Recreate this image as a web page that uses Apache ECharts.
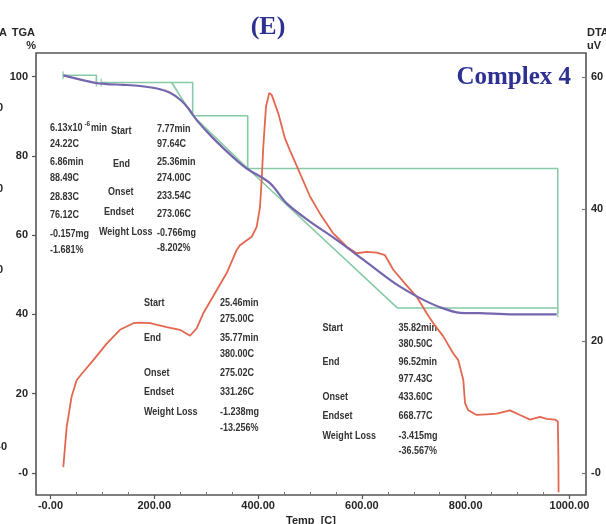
<!DOCTYPE html>
<html>
<head>
<meta charset="utf-8">
<script src="https://cdn.jsdelivr.net/npm/echarts@6/dist/echarts.min.js"></script>
<style>
  html, body { margin: 0; padding: 0; background: #fff; }
  #chart { width: 606px; height: 524px; }
</style>
</head>
<body>
<div id="chart"></div>
<script>
// ---- axis ticks ----
const tempTicks = [0, 200, 400, 600, 800, 1000];
const tempMinorTicks = [50, 100, 150, 250, 300, 350, 450, 500, 550, 650, 700, 750, 850, 900, 950];
const tgaTicks = [0, 20, 40, 60, 80, 100];
const dtaTicks = [0, 20, 40, 60];

// ---- TGA curve: temperature (C) / weight (%) ----
const tgaTemp = [24.7, 85.7, 108.3, 140.0, 172.4, 211.0, 230.3, 249.5, 265.5, 281.7, 313.7, 352.2,
  378.0, 422.9, 455.1, 500.0, 551.4, 602.7, 654.2, 673.5, 712.0, 750.5, 789.1, 827.6, 891.7, 975.3];
const tgaWeight = [100.3, 98.4, 98.1, 97.9, 97.6, 96.8, 95.9, 94.2, 92.0, 89.0, 84.4, 79.6,
  76.8, 73.1, 68.0, 63.4, 58.8, 53.8, 48.7, 47.0, 44.1, 41.8, 40.4, 40.3, 40.0, 40.0];

// ---- DTA curve: temperature (C) / signal (uV) ----
const dtaTemp = [24.7, 31.2, 40.8, 50.5, 63.2, 82.5, 108.3, 133.9, 159.5, 172.4, 191.7, 223.9, 249.5,
  268.8, 281.7, 294.4, 320.2, 339.5, 358.8, 365.0, 387.7, 397.3, 403.7, 406.9, 410.0, 415.2, 421.6,
  426.2, 438.9, 451.8, 461.4, 480.7, 500.0, 519.3, 544.9, 570.7, 590.0, 609.2, 628.5, 644.5, 660.5,
  679.8, 705.6, 724.9, 737.6, 756.8, 776.1, 785.7, 795.4, 798.7, 805.0, 821.2, 840.5, 859.7, 885.4,
  904.6, 923.9, 943.2, 956.0, 972.0, 977.5, 978.5, 979.0];
const dtaSignal = [0.9, 7.0, 11.6, 14.1, 15.3, 17.1, 19.6, 21.7, 22.7, 22.8, 22.7, 22.1, 21.7,
  20.8, 21.9, 24.2, 27.7, 30.3, 33.8, 34.5, 35.8, 37.3, 40.3, 44.4, 49.4, 55.5, 57.6,
  57.3, 54.5, 50.7, 48.9, 45.4, 41.9, 39.3, 36.3, 34.3, 33.3, 33.5, 33.4, 33.0, 30.8,
  29.0, 26.7, 24.2, 22.7, 20.7, 18.1, 17.1, 14.1, 10.6, 9.5, 8.8, 8.9, 9.0, 9.5,
  8.8, 8.1, 8.5, 8.2, 8.1, 7.8, 3.0, -2.9];

// ---- mass-loss steps ----
const stepStartMin = [6.13e-6, 7.77, 25.46, 35.82];
const stepStart = [24.22, 97.64, 275.00, 380.50];
const stepEndMin = [6.86, 25.36, 35.77, 96.52];
const stepEnd = [88.49, 274.00, 380.00, 977.43];
const stepOnset = [28.83, 233.54, 275.02, 433.60];
const stepEndset = [76.12, 273.06, 331.26, 668.77];
const stepLossMg = [0.157, 0.766, 1.238, 3.415];
const stepLossPct = [1.681, 8.202, 13.256, 36.567];
const stepLevel = [100.3, 98.5, 90.1, 76.8];
const tangentWeight = [98.5, 90.3, 76.8, 41.6, 41.6];

const GREEN = '#86cba6';
const PURPLE = '#7566ad';
const RED = '#e4674f';
const TXT = '#333333';
const AX = '#262626';
const SANS = '"Liberation Sans", Arial, sans-serif';
const SERIF = '"Liberation Serif", "Times New Roman", serif';
const NOTE_FONT = 'bold 11px ' + SANS;
const NOTE_SCALE = 0.82;

const zip = (a, b) => a.map((v, i) => [v, b[i]]);

const series = [];
// step boxes
stepStart.forEach((s, i) => {
  const lv = stepLevel[i];
  series.push({
    type: 'line', xAxisIndex: 0, yAxisIndex: 0, symbol: 'none', silent: true,
    lineStyle: { color: GREEN, width: 1.6 },
    data: [[s, lv], [stepEnd[i], lv], [stepEnd[i], lv - stepLossPct[i]]]
  });
});
// onset / endset construction line
const tangentTemp = [stepOnset[1], stepEndset[1], stepEnd[2], stepEndset[3], stepEnd[3]];
series.push({
  type: 'line', xAxisIndex: 0, yAxisIndex: 0, symbol: 'none', silent: true,
  lineStyle: { color: GREEN, width: 1.6 },
  data: zip(tangentTemp, tangentWeight)
});
// DTA
series.push({
  type: 'line', xAxisIndex: 0, yAxisIndex: 1, symbol: 'none', silent: true,
  lineStyle: { color: RED, width: 1.8 },
  data: zip(dtaTemp, dtaSignal)
});
// TGA
series.push({
  type: 'line', xAxisIndex: 0, yAxisIndex: 0, symbol: 'none', silent: true, smooth: 0.3,
  lineStyle: { color: PURPLE, width: 2.2 },
  data: zip(tgaTemp, tgaWeight)
});
// step boundary marks
series.push({
  type: 'scatter', xAxisIndex: 0, yAxisIndex: 0, silent: true,
  symbol: 'rect', symbolSize: [1.4, 8],
  itemStyle: { color: GREEN },
  data: [[stepStart[0], stepLevel[0]], [stepEnd[0], stepLevel[1]], [stepStart[1], stepLevel[1]],
         [stepEnd[3], stepLevel[3] - stepLossPct[3]]]
});

// ---- text annotations ----
const fC = v => v.toFixed(2) + 'C';
const fMin = v => v.toFixed(2) + 'min';
const fMg = v => '-' + v.toFixed(3) + 'mg';
const fPct = v => '-' + v.toFixed(3) + '%';

function txt(text, x, y) {
  return {
    type: 'text', x: x, y: y, scaleX: NOTE_SCALE, silent: true,
    style: { text: text, fill: TXT, font: NOTE_FONT, align: 'left', verticalAlign: 'middle' }
  };
}
function valueColumn(i, x, ys, startMinText) {
  const out = [];
  if (startMinText) out.push(startMinText);
  else out.push(txt(fMin(stepStartMin[i]), x, ys[0]));
  out.push(txt(fC(stepStart[i]), x, ys[1]));
  out.push(txt(fMin(stepEndMin[i]), x, ys[2]));
  out.push(txt(fC(stepEnd[i]), x, ys[3]));
  out.push(txt(fC(stepOnset[i]), x, ys[4]));
  out.push(txt(fC(stepEndset[i]), x, ys[5]));
  out.push(txt(fMg(stepLossMg[i]), x, ys[6]));
  out.push(txt(fPct(stepLossPct[i]), x, ys[7]));
  return out;
}
function labelColumn(pos) {
  const names = ['Start', 'End', 'Onset', 'Endset', 'Weight Loss'];
  return names.map((n, k) => txt(n, pos[k][0], pos[k][1]));
}

// first start time written with a raised exponent
const exp = stepStartMin[0].toExponential(2).split('e');
const firstStart = {
  type: 'group', x: 50, y: 128, scaleX: NOTE_SCALE, silent: true,
  children: [
    { type: 'text', x: 0, y: 0, style: { text: exp[0] + 'x10', fill: TXT, font: NOTE_FONT, verticalAlign: 'middle' } },
    { type: 'text', x: 42, y: -4, style: { text: exp[1], fill: TXT, font: 'bold 8px ' + SANS, verticalAlign: 'middle' } },
    { type: 'text', x: 50, y: 0, style: { text: 'min', fill: TXT, font: NOTE_FONT, verticalAlign: 'middle' } }
  ]
};

const graphics = [].concat(
  valueColumn(0, 50, [128, 144, 162, 178, 196.5, 215, 234, 249.5], firstStart),
  labelColumn([[111, 131], [113, 163.5], [108, 192], [104, 212], [99, 232]]),
  valueColumn(1, 157, [129, 144, 162, 177.5, 195.5, 214, 232.5, 247.5]),
  labelColumn([[144, 302.5], [144, 338], [144, 373], [144, 392], [144, 411.5]]),
  valueColumn(2, 220, [302.5, 319, 338, 354, 373, 392, 411.5, 427.5]),
  labelColumn([[322.5, 327.5], [322.5, 362], [322.5, 396.5], [322.5, 415.5], [322.5, 435.5]]),
  valueColumn(3, 398.5, [327.5, 344, 362, 378.5, 396.5, 415.5, 435.5, 451]),
  [
    // titles
    { type: 'text', x: 268, y: 27, silent: true,
      style: { text: '(E)', fill: '#2e3192', font: 'bold 26px ' + SERIF, align: 'center', verticalAlign: 'middle' } },
    { type: 'text', x: 571, y: 78, silent: true,
      style: { text: 'Complex 4', fill: '#2e3192', font: 'bold 25px ' + SERIF, align: 'right', verticalAlign: 'middle' } },
    // axis captions
    { type: 'text', x: 35, y: 33, silent: true,
      style: { text: 'TGA', fill: AX, font: 'bold 11px ' + SANS, align: 'right', verticalAlign: 'middle' } },
    { type: 'text', x: 36, y: 46, silent: true,
      style: { text: '%', fill: AX, font: 'bold 11px ' + SANS, align: 'right', verticalAlign: 'middle' } },
    { type: 'text', x: 587, y: 33, silent: true,
      style: { text: 'DTA', fill: AX, font: 'bold 11px ' + SANS, align: 'left', verticalAlign: 'middle' } },
    { type: 'text', x: 587, y: 46, silent: true,
      style: { text: 'uV', fill: AX, font: 'bold 11px ' + SANS, align: 'left', verticalAlign: 'middle' } },
    // edge of the neighbouring DTA scale
    { type: 'text', x: 7, y: 33, silent: true,
      style: { text: 'DTA', fill: AX, font: 'bold 11px ' + SANS, align: 'right', verticalAlign: 'middle' } },
    { type: 'text', x: 3, y: 108, silent: true,
      style: { text: '60', fill: AX, font: 'bold 11px ' + SANS, align: 'right', verticalAlign: 'middle' } },
    { type: 'text', x: 3, y: 189, silent: true,
      style: { text: '40', fill: AX, font: 'bold 11px ' + SANS, align: 'right', verticalAlign: 'middle' } },
    { type: 'text', x: 3, y: 270, silent: true,
      style: { text: '20', fill: AX, font: 'bold 11px ' + SANS, align: 'right', verticalAlign: 'middle' } },
    { type: 'text', x: 7, y: 447, silent: true,
      style: { text: '-0', fill: AX, font: 'bold 11px ' + SANS, align: 'right', verticalAlign: 'middle' } }
  ]
);

const labelStyle = { fontFamily: SANS, fontWeight: 'bold', fontSize: 11, color: AX };

const option = {
  animation: false,
  backgroundColor: '#fff',
  grid: { left: 36, right: 20, top: 53, bottom: 29, outerBoundsMode: 'none',
          show: true, borderColor: '#555', borderWidth: 1.6 },
  xAxis: [
    {
      type: 'value', min: -27.9, max: 1031.8,
      axisLine: { show: false, onZero: false }, splitLine: { show: false },
      axisTick: { show: true, customValues: tempTicks, length: 4, lineStyle: { color: '#555', width: 1.2 } },
      axisLabel: Object.assign({ customValues: tempTicks, margin: 5,
        formatter: v => (v === 0 ? '-0.00' : v.toFixed(2)) }, labelStyle),
      name: 'Temp  [C]', nameLocation: 'middle', nameGap: 16,
      nameTextStyle: labelStyle
    },
    {
      type: 'value', min: -27.9, max: 1031.8, position: 'bottom',
      axisLine: { show: false, onZero: false }, splitLine: { show: false }, axisLabel: { show: false },
      axisTick: { show: true, inside: true, customValues: tempMinorTicks, length: 3, lineStyle: { color: '#777', width: 1 } }
    }
  ],
  yAxis: [
    {
      type: 'value', min: -5.55, max: 105.93, position: 'left',
      axisLine: { show: false, onZero: false }, splitLine: { show: false },
      axisTick: { show: true, customValues: tgaTicks, length: 4, lineStyle: { color: '#555', width: 1.2 } },
      axisLabel: Object.assign({ customValues: tgaTicks, margin: 8,
        formatter: v => (v === 0 ? '-0' : String(v)) }, labelStyle)
    },
    {
      type: 'value', min: -3.33, max: 63.64, position: 'right',
      axisLine: { show: false, onZero: false }, splitLine: { show: false },
      axisTick: { show: true, inside: true, customValues: dtaTicks, length: 4, lineStyle: { color: '#777', width: 1.2 } },
      axisLabel: Object.assign({ customValues: dtaTicks, margin: 5,
        formatter: v => (v === 0 ? '-0' : String(v)) }, labelStyle)
    }
  ],
  series: series,
  graphic: graphics
};

const chart = echarts.init(document.getElementById('chart'), null, { renderer: 'canvas' });
chart.setOption(option);
</script>
</body>
</html>
